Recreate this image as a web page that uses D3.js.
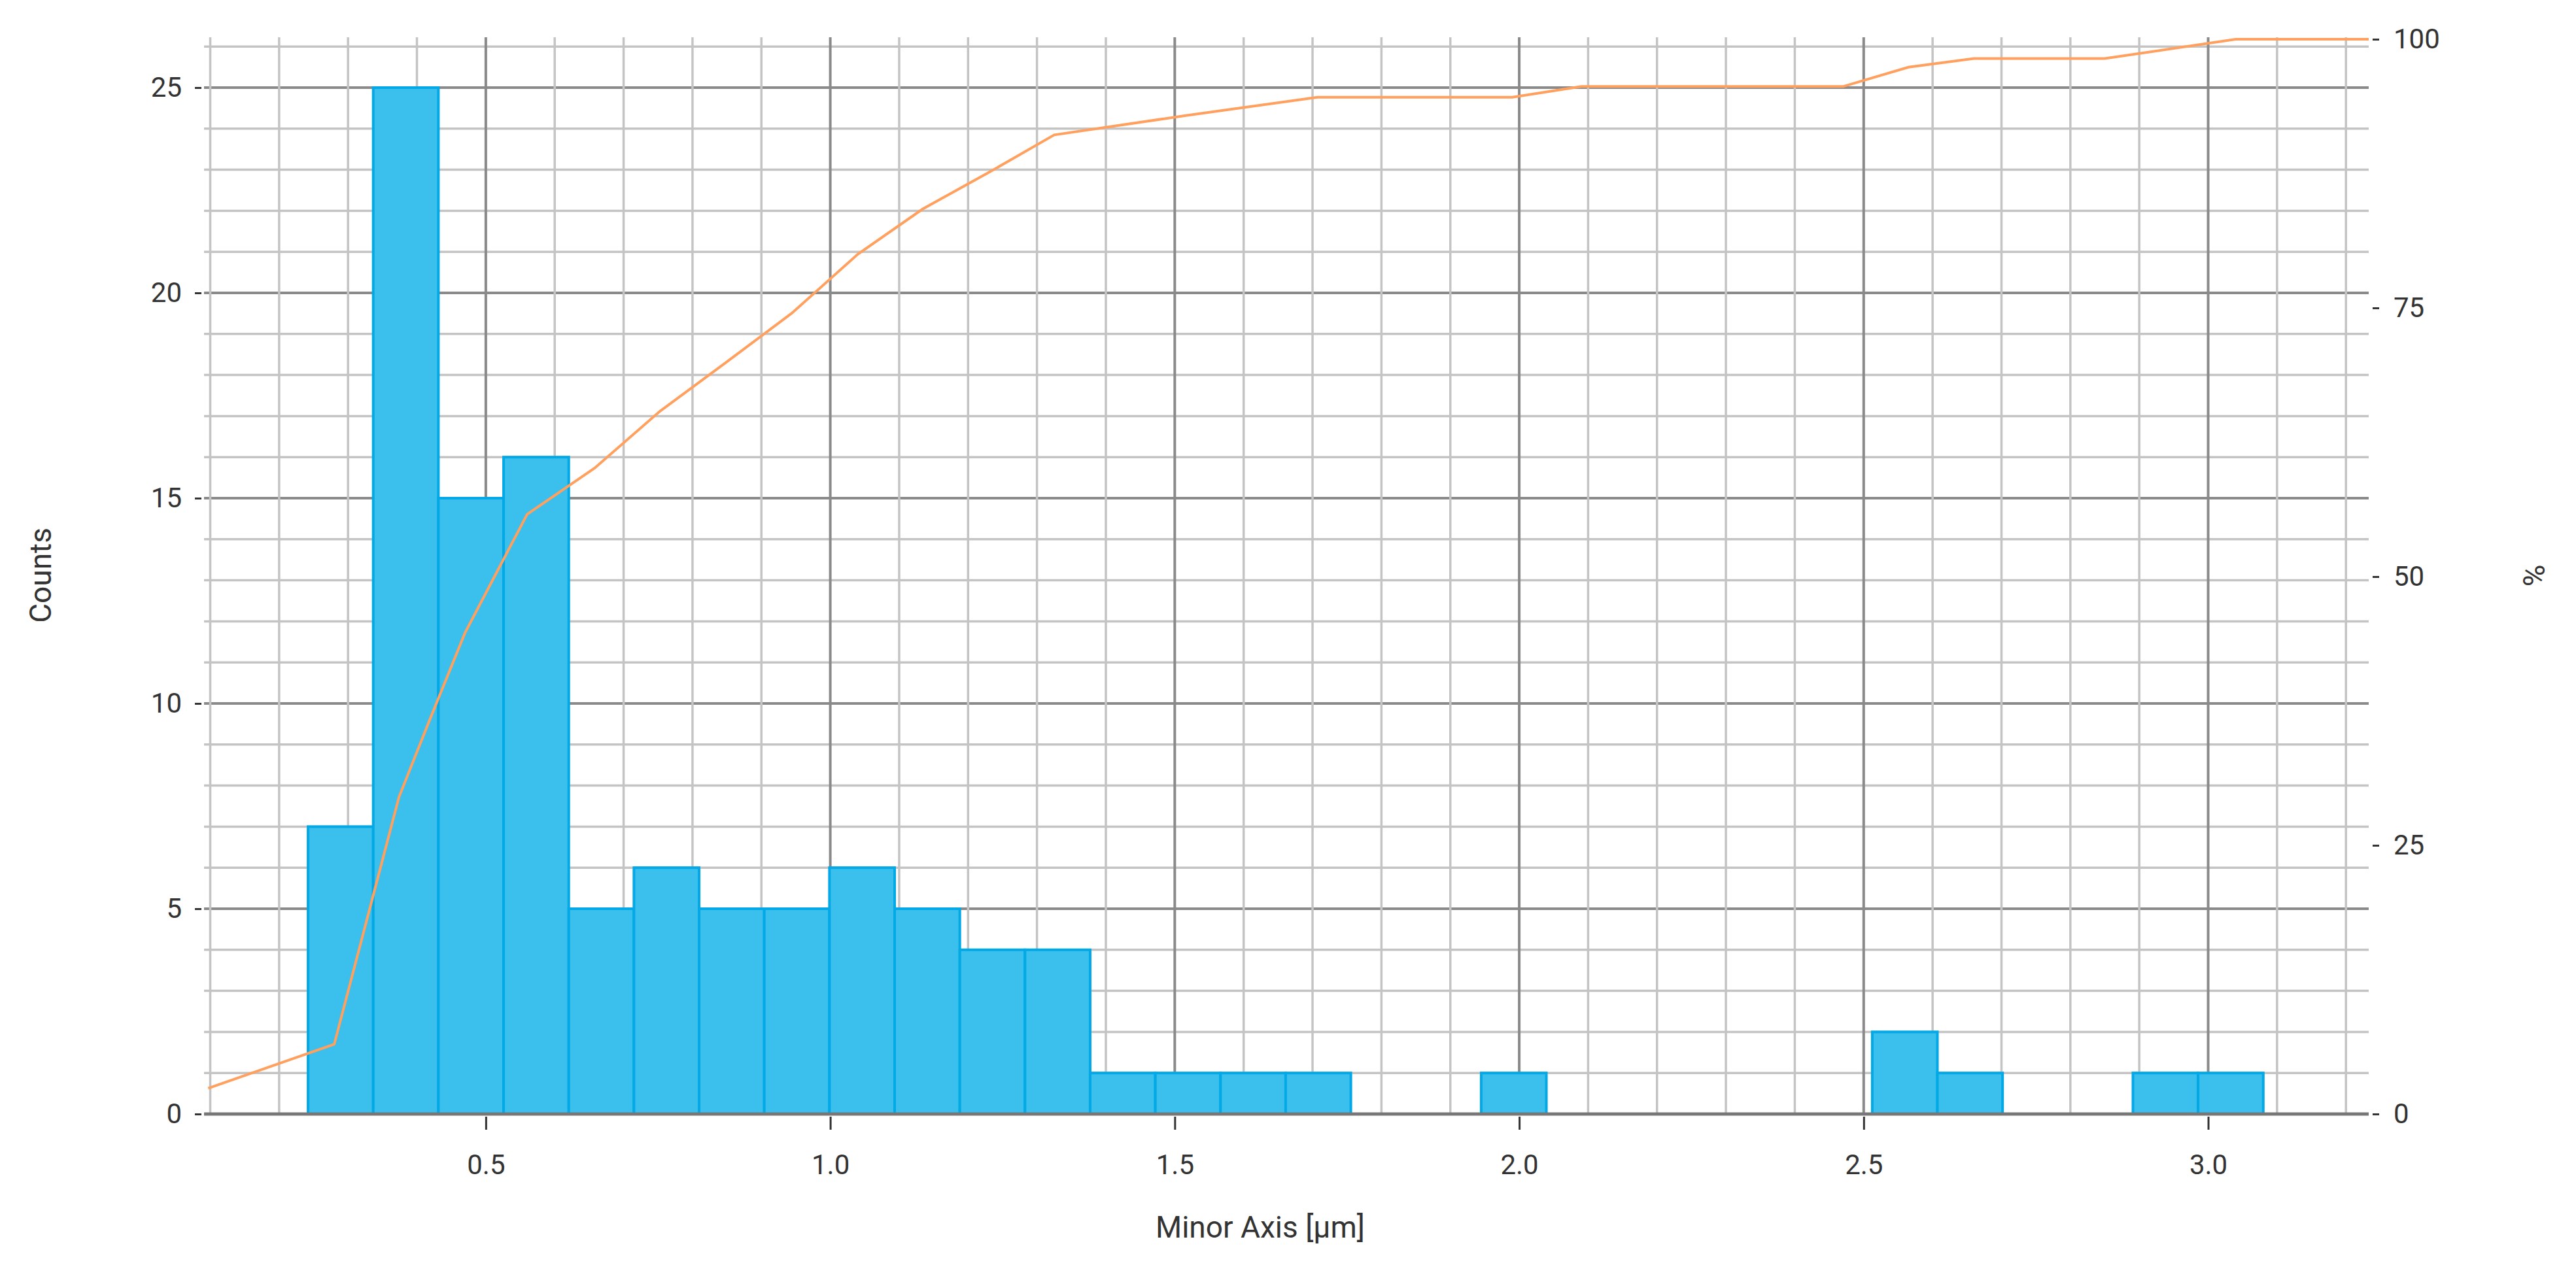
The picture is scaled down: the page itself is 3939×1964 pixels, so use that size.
<!DOCTYPE html>
<html><head><meta charset="utf-8">
<script src="https://cdn.jsdelivr.net/npm/d3@7"></script>
<style>body{margin:0;background:#fff}text{font-family:Roboto,"Noto Sans",sans-serif;fill:#333}</style>
</head><body><svg id="c" width="3939" height="1964"></svg>
<script>
const binStart = 0.242, binWidth = 0.0946;
const counts = [7,25,15,16,5,6,5,5,6,5,4,4,1,1,1,1,0,0,1,0,0,0,0,0,2,1,0,0,1,1];
const cumX = [0.097,0.28,0.374,0.42,0.47,0.56,0.658,0.753,0.848,0.944,1.04,1.134,1.23,1.325,1.516,1.707,1.99,2.09,2.47,2.565,2.66,2.85,3.04,3.233];
const cumY = [2.4,6.5,29.5,36.9,44.8,55.8,60.1,65.4,69.9,74.5,80,84.2,87.6,91.1,92.9,94.6,94.6,95.6,95.6,97.4,98.2,98.2,100,100];
const countTicks = [0,5,10,15,20,25];
const pctTicks = [0,25,50,75,100];
const xTicks = [0.5,1.0,1.5,2.0,2.5,3.0];

const L=312,R=3622,T=57,B=1704;
const svg=d3.select("#c");
const x=d3.scaleLinear().domain([0.091,3.233]).range([L,R]);
const y=d3.scaleLinear().domain([0,25]).range([B,134]);
const yp=d3.scaleLinear().domain([0,100]).range([B,60]);
const g=svg.append("g");
// minor grid
const minorY=d3.range(0,27);
g.selectAll(".hy").data(minorY).join("line").attr("x1",L).attr("x2",R).attr("y1",d=>y(d)).attr("y2",d=>y(d))
 .attr("stroke",d=>d%5===0?"#8a8a8a":"#c4c4c4").attr("stroke-width",d=>d%5===0?4:3.5);
const minorX=d3.range(1,33).map(i=>i/10).filter(v=>v<=3.233);
g.selectAll(".vx").data(minorX).join("line").attr("y1",T).attr("y2",B).attr("x1",d=>x(d)).attr("x2",d=>x(d))
 .attr("stroke",d=>Math.abs(d*2-Math.round(d*2))<1e-6?"#8a8a8a":"#c4c4c4").attr("stroke-width",d=>Math.abs(d*2-Math.round(d*2))<1e-6?4:3.5);
// bars
g.selectAll(".bar").data(counts.map((c,i)=>({c,i})).filter(d=>d.c>0)).join("rect")
 .attr("x",d=>x(binStart+d.i*binWidth)).attr("width",d=>x(binStart+(d.i+1)*binWidth)-x(binStart+d.i*binWidth))
 .attr("y",d=>y(d.c)).attr("height",d=>B-y(d.c))
 .attr("fill","#3bbfec").attr("stroke","#03a9e6").attr("stroke-width",4);
// baseline
g.append("line").attr("x1",L).attr("x2",R).attr("y1",B).attr("y2",B).attr("stroke","#777").attr("stroke-width",5);
// cumulative
g.append("path").datum(cumX.map((v,i)=>[v,cumY[i]])).attr("fill","none").attr("stroke","#ffa05e").attr("stroke-width",4)
 .attr("d",d3.line().x(d=>x(d[0])).y(d=>yp(d[1])));
// axes
const ax=svg.append("g").attr("transform",`translate(0,${B+4})`).call(d3.axisBottom(x).tickValues(xTicks).tickFormat(d3.format(".1f")).tickSize(20).tickPadding(38));
const ay=svg.append("g").attr("transform",`translate(${L-4},0)`).call(d3.axisLeft(y).tickValues(countTicks).tickSize(10).tickPadding(20));
const ap=svg.append("g").attr("transform",`translate(${R+6},0)`).call(d3.axisRight(yp).tickValues(pctTicks).tickSize(10).tickPadding(22));
[ax,ay,ap].forEach(a=>{a.select(".domain").remove();a.selectAll("line").attr("stroke","#333").attr("stroke-width",3);
 a.selectAll("text").style("font-size","42px").style("font-family","Roboto").attr("fill","#333");});
svg.append("text").attr("x",(L+R)/2-40).attr("y",1893).attr("text-anchor","middle").style("font-size","46px").text("Minor Axis [µm]");
svg.append("text").attr("transform","translate(78,880) rotate(-90)").attr("text-anchor","middle").style("font-size","46px").text("Counts");
svg.append("text").attr("transform","translate(3858,880) rotate(90)").attr("text-anchor","middle").style("font-size","46px").text("%");
</script></body></html>
